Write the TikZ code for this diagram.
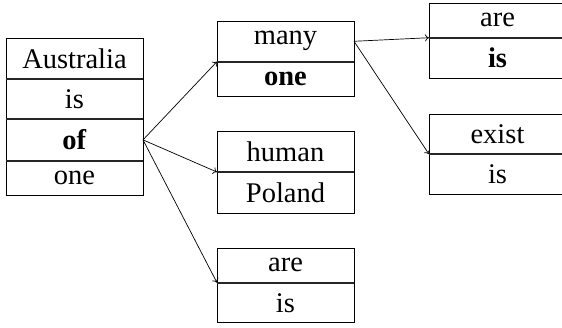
\documentclass[tikz,border=0pt]{standalone}
\usepackage{fontspec}
\setmainfont{Liberation Serif}
\newfontfamily\tmsfont{Liberation Serif}
\usetikzlibrary{arrows.meta}
\tikzset{
  row/.style={draw=black, line width=0.9pt, rectangle, minimum width=137pt,
    inner xsep=2pt, inner ysep=10.5pt, outer sep=0pt, anchor=north,
    font=\tmsfont\fontsize{28.5}{34}\selectfont},
  divider/.style={line width=2pt, draw=black!85},
  link/.style={line width=0.7pt, -{To[length=4pt,width=7pt]}}
}
\begin{document}
\begin{tikzpicture}[x=1pt,y=-1pt]
\useasboundingbox (0,0) rectangle (562,327);
\clip (0,0) rectangle (562,327);
% left box
\node[row] (L1) at (74.5,38) {Australia};
\node[row] (L2) at (L1.south) {is};
\node[row] (L3) at (L2.south) {\textbf{of}};
\node[row] (L4) at (L3.south) {one};
% middle boxes
\node[row] (M1) at (285.5,21) {many};
\node[row] (M2) at (M1.south) {\textbf{one}};
\node[row] (H1) at (285.5,131) {human};
\node[row] (H2) at (H1.south) {Poland};
\node[row] (A1) at (285.5,248) {are};
\node[row] (A2) at (A1.south) {is};
% right boxes
\node[row] (R1) at (497.5,3) {are};
\node[row] (R2) at (R1.south) {\textbf{is}};
\node[row] (E1) at (497.5,114) {exist};
\node[row] (E2) at (E1.south) {is};
% dividers
\foreach \n in {L1,L2,L3,M1,H1,A1,R1,E1}
  \draw[divider] (\n.south west) -- (\n.south east);
% connectors
\draw[link] (L3.east) -- (M1.south west);
\draw[link] (L3.east) -- (H1.south west);
\draw[link] (L3.east) -- (A1.south west);
\draw[link] (M1.east) -- (R1.south west);
\draw[link] (M1.east) -- (E1.south west);
\end{tikzpicture}
\end{document}
